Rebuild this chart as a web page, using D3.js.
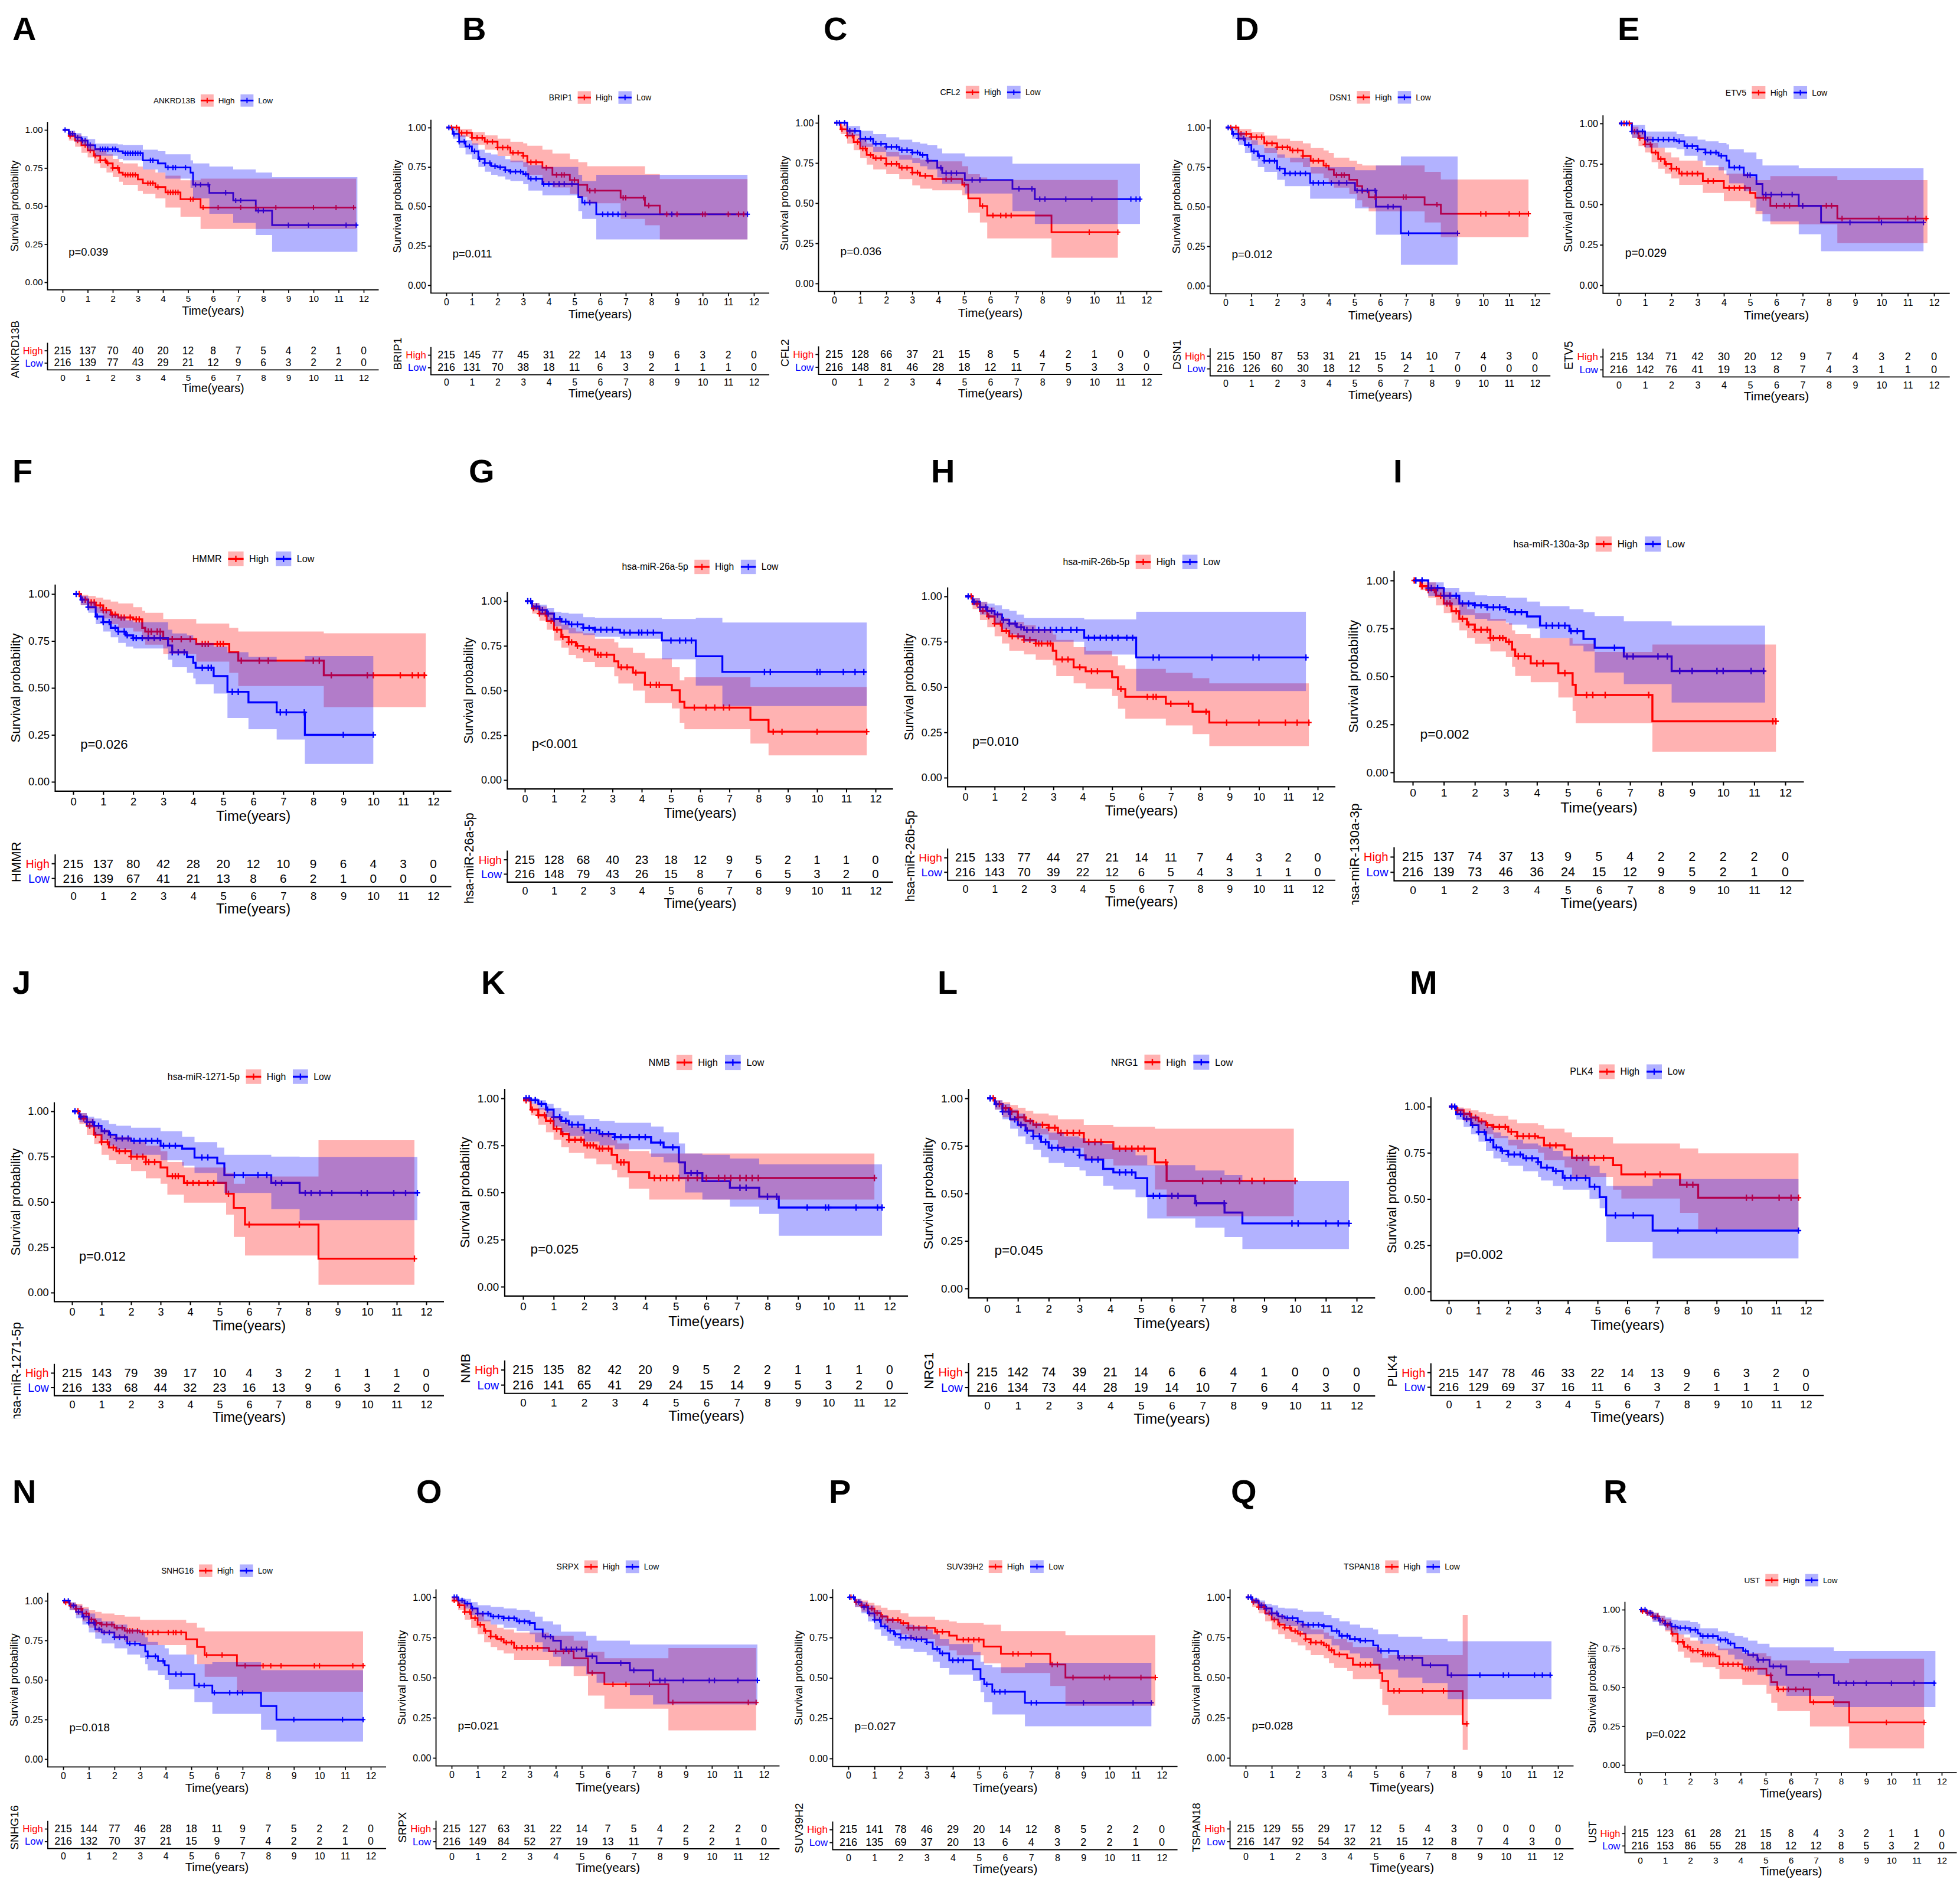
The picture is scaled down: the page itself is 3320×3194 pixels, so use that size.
<!DOCTYPE html>
<html>
<head>
<meta charset="utf-8">
<style>
  body { margin: 0; background: #fff; }
  text { font-family: "Liberation Sans", Arial, sans-serif; }
</style>
</head>
<body>
<svg id="fig"></svg>
<script src="https://cdn.jsdelivr.net/npm/d3@7"></script>
<script>
// ---- labels ----
const letters = ["A","B","C","D","E","F","G","H","I","J","K","L","M","N","O","P","Q","R"];
const genes = ["ANKRD13B","BRIP1","CFL2","DSN1","ETV5","HMMR","hsa-miR-26a-5p","hsa-miR-26b-5p",
  "hsa-miR-130a-3p","hsa-miR-1271-5p","NMB","NRG1","PLK4","SNHG16","SRPX","SUV39H2","TSPAN18","UST"];
const pvals = ["p=0.039","p=0.011","p=0.036","p=0.012","p=0.029","p=0.026","p<0.001","p=0.010","p=0.002",
  "p=0.012","p=0.025","p=0.045","p=0.002","p=0.018","p=0.021","p=0.027","p=0.028","p=0.022"];
const groups = ["High","Low"];
const timeTicks = [0,1,2,3,4,5,6,7,8,9,10,11,12];
const survTicks = [0, 0.25, 0.5, 0.75, 1];

// ---- KM curves: [time, survival, lower CI, upper CI] (last row = end of follow-up) ----
const kmA_hi = [[0,1,1,1],[0.25,0.96,0.93,0.99],[0.5,0.93,0.89,0.97],[0.75,0.9,0.85,0.94],[1,0.865,0.82,0.91],[1.25,0.83,0.78,0.88],[1.5,0.8,0.75,0.86],[1.75,0.78,0.72,0.84],[2,0.75,0.69,0.81],[2.25,0.72,0.66,0.79],[2.4,0.705,0.64,0.78],[3,0.675,0.6,0.76],[3.2,0.65,0.58,0.74],[3.7,0.625,0.55,0.72],[4.1,0.59,0.49,0.7],[4.7,0.545,0.43,0.67],[5.5,0.49,0.35,0.68],[11.7,0.49,0.35,0.68]];
const kmA_lo = [[0,1,1,1],[0.25,0.975,0.96,0.995],[0.5,0.95,0.92,0.98],[0.75,0.93,0.9,0.96],[1,0.9,0.86,0.94],[1.3,0.873,0.83,0.91],[2.2,0.86,0.81,0.905],[2.4,0.847,0.8,0.9],[3.2,0.8,0.74,0.87],[3.8,0.78,0.72,0.86],[4.1,0.753,0.68,0.84],[5.1,0.72,0.62,0.8],[5.2,0.64,0.55,0.78],[5.85,0.587,0.45,0.76],[6.8,0.537,0.39,0.74],[7.7,0.47,0.31,0.72],[8.35,0.375,0.2,0.69],[11.75,0.375,0.2,0.69]];
const kmB_hi = [[0,1,1,1],[0.5,0.966,0.94,0.99],[1,0.935,0.89,0.97],[1.5,0.91,0.86,0.95],[2,0.873,0.82,0.93],[2.5,0.84,0.78,0.91],[3,0.82,0.75,0.9],[3.16,0.78,0.7,0.885],[3.75,0.745,0.65,0.86],[4.14,0.7,0.62,0.835],[4.82,0.667,0.58,0.8],[5.15,0.636,0.56,0.78],[5.5,0.6,0.52,0.755],[6.8,0.555,0.42,0.755],[7.75,0.505,0.38,0.705],[8.33,0.45,0.29,0.673],[11.75,0.45,0.29,0.673]];
const kmB_lo = [[0,1,1,1],[0.25,0.96,0.93,0.99],[0.5,0.91,0.87,0.95],[0.75,0.88,0.83,0.92],[1,0.85,0.8,0.9],[1.25,0.8,0.75,0.86],[1.5,0.775,0.72,0.84],[1.75,0.755,0.7,0.83],[2,0.748,0.69,0.82],[2.3,0.73,0.67,0.8],[2.5,0.72,0.66,0.79],[3,0.705,0.64,0.78],[3.2,0.675,0.6,0.76],[3.75,0.642,0.57,0.75],[5.15,0.56,0.47,0.7],[5.3,0.524,0.42,0.66],[5.85,0.45,0.29,0.7],[11.75,0.45,0.29,0.7]];
const kmC_hi = [[0,1,1,1],[0.25,0.96,0.93,0.99],[0.5,0.92,0.87,0.96],[0.75,0.88,0.83,0.93],[1,0.84,0.78,0.9],[1.25,0.8,0.74,0.87],[1.5,0.78,0.71,0.85],[2,0.745,0.68,0.82],[2.5,0.72,0.65,0.8],[3,0.69,0.61,0.78],[3.3,0.67,0.59,0.77],[3.77,0.65,0.58,0.76],[4.92,0.615,0.55,0.73],[5.15,0.53,0.44,0.68],[5.6,0.482,0.38,0.66],[5.88,0.423,0.28,0.644],[8.35,0.319,0.16,0.644],[10.9,0.319,0.16,0.644]];
const kmC_lo = [[0,1,1,1],[0.5,0.95,0.92,0.98],[1,0.9,0.85,0.95],[1.5,0.87,0.82,0.93],[2,0.85,0.79,0.91],[2.5,0.83,0.77,0.895],[3,0.815,0.75,0.88],[3.3,0.8,0.73,0.87],[3.58,0.764,0.71,0.86],[3.96,0.72,0.66,0.84],[4.15,0.687,0.62,0.81],[5.02,0.644,0.56,0.79],[6.85,0.589,0.45,0.745],[7.71,0.525,0.37,0.745],[11.75,0.525,0.37,0.745]];
const kmD_hi = [[0,1,1,1],[0.5,0.96,0.92,0.99],[1,0.94,0.89,0.97],[1.5,0.9,0.84,0.95],[2,0.875,0.81,0.93],[2.5,0.855,0.78,0.915],[3,0.82,0.75,0.9],[3.3,0.79,0.71,0.87],[3.8,0.76,0.68,0.855],[4,0.735,0.65,0.84],[4.2,0.7,0.62,0.81],[4.8,0.67,0.58,0.79],[5.1,0.63,0.54,0.77],[5.3,0.6,0.5,0.76],[5.55,0.56,0.47,0.76],[7.72,0.513,0.4,0.72],[8.35,0.455,0.308,0.672],[11.75,0.455,0.308,0.672]];
const kmD_lo = [[0,1,1,1],[0.25,0.96,0.93,0.99],[0.5,0.93,0.89,0.97],[0.75,0.89,0.84,0.94],[1,0.85,0.79,0.92],[1.25,0.82,0.75,0.89],[1.5,0.79,0.72,0.87],[2,0.74,0.67,0.83],[2.3,0.71,0.63,0.81],[3.28,0.65,0.55,0.75],[5.02,0.602,0.49,0.73],[5.83,0.5,0.323,0.76],[6.8,0.332,0.132,0.817],[9,0.332,0.132,0.817]];
const kmE_hi = [[0,1,1,1],[0.5,0.95,0.91,0.98],[0.75,0.91,0.86,0.95],[1,0.87,0.82,0.92],[1.25,0.82,0.76,0.88],[1.5,0.78,0.72,0.85],[1.75,0.75,0.69,0.82],[2,0.72,0.66,0.79],[2.3,0.69,0.62,0.77],[3.2,0.644,0.57,0.73],[4,0.601,0.52,0.69],[5,0.57,0.48,0.67],[5.2,0.54,0.44,0.65],[5.77,0.491,0.376,0.674],[8.32,0.412,0.26,0.65],[11.75,0.412,0.26,0.65]];
const kmE_lo = [[0,1,1,1],[0.5,0.95,0.91,0.99],[1,0.9,0.85,0.95],[2.2,0.89,0.84,0.934],[2.5,0.86,0.8,0.92],[3,0.84,0.77,0.9],[3.3,0.82,0.74,0.89],[3.8,0.8,0.71,0.88],[4.1,0.77,0.68,0.87],[4.2,0.727,0.63,0.84],[4.76,0.68,0.58,0.82],[5.24,0.626,0.46,0.78],[5.47,0.56,0.394,0.74],[6.85,0.49,0.315,0.723],[7.7,0.388,0.21,0.723],[11.6,0.388,0.21,0.723]];
const kmF_hi = [[0,1,1,1],[0.25,0.97,0.94,0.995],[0.5,0.955,0.92,0.99],[0.75,0.94,0.9,0.98],[1,0.914,0.87,0.97],[1.25,0.89,0.84,0.96],[1.5,0.875,0.82,0.95],[2,0.865,0.8,0.93],[2.3,0.82,0.76,0.91],[2.4,0.8,0.73,0.9],[3,0.76,0.68,0.867],[4.1,0.734,0.64,0.843],[5.2,0.69,0.58,0.82],[5.5,0.645,0.51,0.8],[8.35,0.567,0.398,0.791],[11.75,0.567,0.398,0.791]];
const kmF_lo = [[0,1,1,1],[0.25,0.97,0.94,0.99],[0.5,0.93,0.9,0.96],[0.75,0.88,0.84,0.93],[1,0.85,0.8,0.91],[1.25,0.82,0.77,0.89],[1.5,0.8,0.74,0.88],[1.75,0.78,0.72,0.86],[2,0.765,0.71,0.85],[3.16,0.726,0.65,0.81],[3.3,0.69,0.61,0.79],[3.79,0.665,0.58,0.78],[4,0.634,0.55,0.76],[4.08,0.607,0.52,0.74],[4.68,0.563,0.47,0.72],[5.14,0.479,0.34,0.69],[5.84,0.423,0.28,0.665],[6.78,0.37,0.225,0.64],[7.72,0.25,0.095,0.67],[10,0.25,0.095,0.67]];
const kmG_hi = [[0,1,1,1],[0.25,0.96,0.93,0.99],[0.5,0.93,0.89,0.97],[0.75,0.89,0.84,0.94],[1,0.84,0.78,0.9],[1.25,0.8,0.74,0.87],[1.5,0.77,0.7,0.85],[1.75,0.75,0.68,0.83],[2,0.73,0.66,0.82],[2.4,0.7,0.63,0.79],[3.06,0.664,0.58,0.77],[3.2,0.63,0.54,0.74],[3.7,0.6,0.5,0.71],[4.11,0.532,0.43,0.68],[5.03,0.502,0.4,0.63],[5.3,0.438,0.32,0.557],[5.46,0.405,0.284,0.574],[7.72,0.336,0.204,0.52],[8.34,0.27,0.138,0.52],[11.7,0.27,0.138,0.52]];
const kmG_lo = [[0,1,1,1],[0.25,0.97,0.95,0.99],[0.5,0.95,0.92,0.98],[0.75,0.93,0.89,0.96],[1,0.9,0.86,0.94],[1.25,0.885,0.84,0.935],[1.5,0.87,0.82,0.93],[2,0.85,0.81,0.91],[2.4,0.84,0.8,0.906],[3.26,0.824,0.79,0.906],[4.69,0.78,0.675,0.9],[5.85,0.692,0.527,0.906],[6.76,0.604,0.413,0.88],[11.7,0.604,0.413,0.88]];
const kmH_hi = [[0,1,1,1],[0.25,0.96,0.93,0.99],[0.5,0.92,0.87,0.97],[0.75,0.89,0.83,0.94],[1,0.85,0.78,0.91],[1.25,0.81,0.74,0.88],[1.5,0.78,0.7,0.86],[2,0.76,0.68,0.84],[2.4,0.74,0.65,0.82],[2.98,0.7,0.62,0.79],[3.1,0.652,0.56,0.76],[3.69,0.609,0.52,0.72],[4.1,0.587,0.49,0.7],[5,0.554,0.45,0.67],[5.2,0.489,0.38,0.62],[5.45,0.446,0.326,0.6],[6.83,0.408,0.288,0.578],[7.74,0.364,0.24,0.549],[8.31,0.304,0.174,0.52],[11.7,0.304,0.174,0.52]];
const kmH_lo = [[0,1,1,1],[0.25,0.97,0.95,0.99],[0.5,0.94,0.9,0.97],[0.75,0.92,0.88,0.96],[1,0.9,0.85,0.95],[1.25,0.87,0.82,0.93],[1.5,0.85,0.79,0.92],[1.75,0.83,0.77,0.9],[2,0.815,0.75,0.88],[4.05,0.772,0.679,0.873],[5.82,0.663,0.478,0.915],[11.6,0.663,0.478,0.915]];
const kmI_hi = [[0,1,1,1],[0.25,0.97,0.95,0.99],[0.5,0.95,0.91,0.99],[0.75,0.92,0.87,0.96],[1,0.88,0.83,0.94],[1.25,0.84,0.78,0.91],[1.5,0.8,0.74,0.88],[1.75,0.77,0.7,0.85],[2,0.743,0.67,0.83],[2.5,0.7,0.63,0.8],[3,0.68,0.6,0.777],[3.2,0.64,0.55,0.74],[3.3,0.605,0.502,0.72],[3.8,0.568,0.47,0.7],[4.69,0.517,0.39,0.7],[5.15,0.456,0.32,0.67],[5.25,0.403,0.256,0.67],[5.86,0.403,0.256,0.628],[7.72,0.266,0.108,0.666],[11.7,0.266,0.108,0.666]];
const kmI_lo = [[0,1,1,1],[0.5,0.96,0.92,0.99],[1,0.92,0.87,0.96],[1.5,0.88,0.82,0.94],[2,0.871,0.8,0.922],[2.4,0.86,0.79,0.92],[3,0.85,0.78,0.91],[3.1,0.835,0.77,0.91],[3.68,0.812,0.75,0.89],[4.1,0.765,0.7,0.866],[5.05,0.736,0.66,0.85],[5.5,0.695,0.63,0.835],[5.86,0.649,0.52,0.815],[6.8,0.604,0.46,0.787],[8.34,0.528,0.364,0.765],[11.35,0.528,0.364,0.765]];
const kmJ_hi = [[0,1,1,1],[0.25,0.96,0.93,0.99],[0.5,0.92,0.87,0.96],[0.75,0.87,0.82,0.92],[1,0.83,0.76,0.9],[1.25,0.8,0.73,0.87],[1.5,0.78,0.71,0.86],[2,0.75,0.67,0.83],[2.5,0.72,0.63,0.81],[3,0.69,0.6,0.78],[3.23,0.642,0.54,0.72],[3.79,0.605,0.496,0.69],[5.22,0.545,0.43,0.66],[5.48,0.467,0.307,0.6],[5.86,0.375,0.204,0.64],[8.35,0.187,0.043,0.84],[11.6,0.187,0.043,0.84]];
const kmJ_lo = [[0,1,1,1],[0.25,0.97,0.94,0.99],[0.5,0.94,0.91,0.97],[0.75,0.92,0.87,0.96],[1,0.89,0.84,0.95],[1.25,0.87,0.81,0.93],[1.5,0.85,0.79,0.92],[2,0.837,0.76,0.91],[3,0.81,0.73,0.89],[3.73,0.794,0.7,0.86],[4.15,0.745,0.66,0.83],[4.92,0.713,0.6,0.8],[5.16,0.648,0.55,0.76],[6.75,0.605,0.46,0.75],[7.71,0.55,0.4,0.748],[11.7,0.55,0.4,0.748]];
const kmK_hi = [[0,0.99,0.98,1],[0.25,0.94,0.91,0.97],[0.5,0.91,0.86,0.95],[0.75,0.88,0.82,0.93],[1,0.838,0.78,0.9],[1.25,0.81,0.74,0.87],[1.5,0.78,0.71,0.85],[2,0.75,0.68,0.82],[2.4,0.733,0.65,0.81],[2.9,0.7,0.62,0.78],[3.08,0.66,0.58,0.76],[3.46,0.608,0.52,0.72],[4.13,0.577,0.462,0.707],[11.5,0.577,0.462,0.707]];
const kmK_lo = [[0,1,1,1],[0.25,0.99,0.97,1],[0.5,0.97,0.94,0.99],[0.75,0.94,0.9,0.97],[1,0.9,0.85,0.95],[1.25,0.88,0.82,0.93],[1.5,0.86,0.8,0.91],[2,0.83,0.77,0.89],[2.5,0.81,0.75,0.88],[3,0.794,0.73,0.87],[4.19,0.765,0.69,0.85],[4.6,0.74,0.66,0.82],[5.1,0.66,0.57,0.76],[5.3,0.603,0.5,0.707],[5.87,0.56,0.462,0.7],[6.77,0.525,0.425,0.68],[7.73,0.478,0.386,0.65],[8.37,0.42,0.27,0.65],[11.75,0.42,0.27,0.65]];
const kmL_hi = [[0,1,1,1],[0.25,0.97,0.94,0.99],[0.5,0.948,0.9,0.98],[0.75,0.93,0.88,0.965],[1,0.9,0.85,0.95],[1.25,0.88,0.83,0.935],[1.5,0.86,0.81,0.92],[2,0.845,0.78,0.91],[2.3,0.818,0.74,0.89],[3.14,0.77,0.68,0.86],[4.1,0.735,0.647,0.85],[5.45,0.663,0.52,0.84],[5.83,0.565,0.38,0.84],[9.96,0.565,0.38,0.84]];
const kmL_lo = [[0,1,1,1],[0.25,0.97,0.94,0.99],[0.5,0.93,0.89,0.97],[0.75,0.89,0.84,0.94],[1,0.86,0.8,0.92],[1.25,0.83,0.76,0.89],[1.5,0.8,0.73,0.87],[1.75,0.77,0.69,0.84],[2,0.74,0.66,0.82],[2.5,0.73,0.64,0.8],[3,0.7,0.62,0.79],[3.2,0.678,0.59,0.77],[3.77,0.629,0.54,0.76],[4.1,0.61,0.52,0.73],[4.82,0.58,0.48,0.7],[5.2,0.487,0.368,0.648],[6.76,0.448,0.32,0.62],[7.71,0.399,0.27,0.596],[8.29,0.342,0.207,0.565],[11.75,0.342,0.207,0.565]];
const kmM_hi = [[0,1,1,1],[0.25,0.98,0.96,0.995],[0.5,0.96,0.92,0.99],[0.75,0.94,0.9,0.98],[1,0.92,0.87,0.97],[1.25,0.9,0.85,0.96],[1.5,0.89,0.83,0.95],[2,0.864,0.79,0.93],[2.3,0.84,0.77,0.91],[3,0.832,0.75,0.9],[3.2,0.79,0.71,0.88],[3.89,0.768,0.67,0.86],[4.14,0.722,0.62,0.834],[5.52,0.683,0.55,0.8],[5.8,0.633,0.502,0.8],[7.77,0.577,0.425,0.773],[8.38,0.507,0.337,0.747],[11.75,0.507,0.337,0.747]];
const kmM_lo = [[0,1,1,1],[0.25,0.96,0.93,0.99],[0.5,0.933,0.89,0.97],[0.75,0.9,0.85,0.95],[1,0.862,0.81,0.92],[1.25,0.82,0.76,0.89],[1.5,0.779,0.72,0.86],[1.75,0.76,0.7,0.84],[2,0.741,0.68,0.82],[2.5,0.72,0.65,0.8],[3,0.7,0.62,0.79],[3.1,0.67,0.6,0.78],[3.5,0.651,0.57,0.76],[3.83,0.614,0.55,0.73],[4.73,0.566,0.5,0.68],[5.07,0.51,0.45,0.64],[5.29,0.411,0.268,0.57],[6.85,0.329,0.178,0.608],[11.75,0.329,0.178,0.608]];
const kmN_hi = [[0,0.99,0.98,1],[0.25,0.97,0.94,0.99],[0.5,0.95,0.91,0.98],[0.75,0.92,0.87,0.96],[1,0.882,0.83,0.94],[1.25,0.86,0.8,0.93],[1.5,0.85,0.79,0.92],[2,0.83,0.76,0.91],[2.4,0.81,0.74,0.9],[3,0.8,0.72,0.88],[4.8,0.757,0.66,0.86],[5.22,0.708,0.6,0.83],[5.52,0.657,0.52,0.807],[6.78,0.59,0.425,0.807],[11.7,0.59,0.425,0.807]];
const kmN_lo = [[0,1,1,1],[0.25,0.97,0.94,0.99],[0.5,0.93,0.89,0.97],[0.75,0.9,0.85,0.95],[1,0.861,0.8,0.92],[1.25,0.82,0.76,0.89],[1.5,0.8,0.73,0.87],[2,0.77,0.7,0.85],[2.5,0.73,0.66,0.82],[3,0.72,0.64,0.8],[3.2,0.68,0.6,0.77],[3.3,0.65,0.56,0.74],[3.7,0.62,0.53,0.72],[3.96,0.593,0.5,0.7],[4.12,0.537,0.44,0.66],[5.12,0.465,0.36,0.6],[5.82,0.419,0.285,0.612],[7.72,0.335,0.185,0.562],[8.32,0.249,0.11,0.562],[11.7,0.249,0.11,0.562]];
const kmO_hi = [[0,0.98,0.97,1],[0.25,0.95,0.92,0.98],[0.5,0.908,0.86,0.96],[0.75,0.87,0.81,0.93],[1,0.829,0.77,0.9],[1.25,0.79,0.72,0.86],[1.5,0.755,0.69,0.83],[1.75,0.74,0.67,0.81],[2,0.718,0.65,0.8],[2.4,0.685,0.61,0.78],[3.74,0.663,0.57,0.76],[4.69,0.62,0.51,0.73],[5.24,0.529,0.388,0.66],[5.87,0.458,0.306,0.62],[8.33,0.345,0.171,0.684],[11.7,0.345,0.171,0.684]];
const kmO_lo = [[0,1,1,1],[0.25,0.98,0.96,0.995],[0.5,0.96,0.93,0.99],[0.75,0.93,0.89,0.97],[1,0.898,0.85,0.95],[1.5,0.88,0.83,0.94],[2,0.869,0.81,0.93],[2.5,0.85,0.79,0.92],[3,0.84,0.77,0.91],[3.2,0.8,0.72,0.88],[3.5,0.755,0.66,0.85],[3.9,0.73,0.63,0.83],[4.2,0.676,0.57,0.786],[5.17,0.633,0.52,0.76],[5.57,0.59,0.468,0.73],[6.85,0.545,0.39,0.706],[7.74,0.482,0.333,0.706],[11.75,0.482,0.333,0.706]];
const kmP_hi = [[0,1,1,1],[0.25,0.97,0.94,0.99],[0.5,0.949,0.91,0.98],[0.75,0.93,0.88,0.965],[1,0.902,0.86,0.95],[1.25,0.88,0.83,0.935],[1.5,0.859,0.8,0.92],[2,0.84,0.77,0.9],[2.3,0.81,0.74,0.88],[3.32,0.786,0.7,0.86],[3.86,0.762,0.67,0.85],[4.15,0.737,0.64,0.84],[5.18,0.694,0.59,0.83],[5.84,0.649,0.53,0.79],[7.73,0.583,0.45,0.79],[8.31,0.502,0.327,0.765],[11.75,0.502,0.327,0.765]];
const kmP_lo = [[0,1,1,1],[0.25,0.97,0.94,0.99],[0.5,0.94,0.9,0.97],[0.75,0.9,0.85,0.95],[1,0.86,0.8,0.92],[1.25,0.82,0.76,0.89],[1.5,0.792,0.73,0.87],[1.75,0.77,0.7,0.85],[2,0.749,0.68,0.83],[2.5,0.74,0.66,0.82],[3,0.72,0.64,0.8],[3.23,0.68,0.6,0.77],[3.5,0.652,0.56,0.74],[3.86,0.609,0.52,0.71],[4.77,0.554,0.48,0.66],[5.06,0.493,0.41,0.6],[5.2,0.46,0.35,0.58],[5.51,0.414,0.273,0.566],[6.76,0.345,0.2,0.593],[11.6,0.345,0.2,0.593]];
const kmQ_hi = [[0,1,1,1],[0.25,0.97,0.94,0.99],[0.5,0.939,0.9,0.97],[0.75,0.9,0.85,0.94],[1,0.861,0.8,0.91],[1.25,0.83,0.77,0.89],[1.5,0.81,0.74,0.87],[1.75,0.79,0.72,0.855],[2,0.773,0.7,0.84],[2.3,0.74,0.67,0.82],[2.5,0.718,0.64,0.8],[3,0.7,0.62,0.78],[3.2,0.67,0.59,0.76],[3.4,0.644,0.56,0.74],[3.9,0.62,0.54,0.72],[4.12,0.58,0.49,0.69],[5.15,0.528,0.43,0.65],[5.25,0.479,0.33,0.62],[5.48,0.417,0.266,0.64],[8.34,0.212,0.05,0.89],[8.53,0.212,0.05,0.89]];
const kmQ_lo = [[0,1,1,1],[0.25,0.98,0.96,0.995],[0.5,0.95,0.92,0.98],[0.75,0.93,0.89,0.96],[1,0.9,0.86,0.95],[1.25,0.88,0.84,0.935],[1.5,0.87,0.82,0.93],[2,0.849,0.79,0.92],[2.2,0.828,0.77,0.91],[3,0.82,0.74,0.89],[3.3,0.79,0.7,0.87],[3.6,0.76,0.67,0.85],[4,0.74,0.65,0.83],[4.4,0.73,0.62,0.81],[4.9,0.7,0.58,0.8],[5.09,0.666,0.55,0.77],[5.86,0.623,0.5,0.755],[6.79,0.577,0.466,0.74],[7.76,0.515,0.366,0.726],[11.75,0.515,0.366,0.726]];
const kmR_hi = [[0,0.99,0.98,1],[0.25,0.98,0.96,0.995],[0.5,0.958,0.93,0.98],[0.75,0.93,0.9,0.96],[1,0.901,0.86,0.94],[1.25,0.844,0.79,0.89],[1.5,0.793,0.73,0.84],[1.75,0.76,0.69,0.82],[2,0.736,0.66,0.8],[2.5,0.711,0.63,0.78],[3,0.7,0.618,0.768],[3.16,0.648,0.553,0.75],[4.07,0.619,0.515,0.72],[5.03,0.578,0.458,0.7],[5.22,0.534,0.4,0.673],[5.46,0.487,0.347,0.673],[6.76,0.404,0.248,0.657],[8.32,0.274,0.106,0.684],[11.3,0.274,0.106,0.684]];
const kmR_lo = [[0,1,1,1],[0.25,0.98,0.96,0.995],[0.5,0.95,0.92,0.98],[0.75,0.93,0.895,0.96],[1,0.909,0.87,0.95],[1.25,0.89,0.85,0.935],[1.5,0.882,0.84,0.93],[2,0.87,0.82,0.92],[2.3,0.847,0.8,0.91],[2.4,0.83,0.78,0.88],[3.1,0.806,0.74,0.86],[3.5,0.783,0.71,0.85],[3.76,0.755,0.68,0.83],[4.1,0.733,0.64,0.82],[4.3,0.708,0.62,0.8],[4.67,0.676,0.58,0.78],[5.15,0.635,0.51,0.758],[5.82,0.58,0.445,0.758],[7.71,0.527,0.373,0.734],[11.75,0.527,0.373,0.734]];

// ---- censoring times ----
const cnA_hi = [0.3,0.6,0.9,1.1,1.3,1.5,1.7,1.8,2.0,2.2,2.5,2.6,2.7,2.8,2.9,3.4,3.5,3.6,3.8,4.2,4.3,4.4,4.5,4.6,5.1,5.2,5.6,6.2,7.1,7.7,8.5,10.0,10.9,11.6];
const cnA_lo = [0.1,0.3,0.4,0.6,0.8,0.9,1.0,1.1,1.5,1.6,1.7,1.8,2.0,2.1,2.5,2.6,2.7,2.8,2.9,3.0,3.1,3.5,3.6,4.2,4.4,4.5,4.9,5.3,5.5,5.8,6.5,6.9,7.1,7.8,8.0,9.0,9.8,11.3,11.7];
const cnB_hi = [0.2,0.4,0.6,0.8,1.0,1.2,1.4,1.6,1.8,2.0,2.2,2.4,2.6,2.8,3.0,3.3,3.5,3.9,4.3,4.5,4.6,5.0,5.6,5.8,6.9,7.0,7.7,7.9,8.6,9.0,10.0,10.1,11.0,11.4,11.6];
const cnB_lo = [0.1,0.3,0.5,0.7,0.9,1.1,1.3,1.5,1.7,1.9,2.1,2.3,2.5,2.7,2.9,3.1,3.3,3.5,3.8,4.0,4.2,4.4,4.6,4.9,5.4,5.6,6.1,6.3,6.5,6.7,7.0,8.8,11.75];
const cnC_hi = [0.3,0.5,0.7,0.9,1.1,1.2,1.4,1.6,1.8,2.0,2.2,2.4,2.6,2.8,3.0,3.2,3.5,4.3,4.5,5.0,5.7,6.1,6.4,6.6,6.8,9.8,10.9];
const cnC_lo = [0.1,0.2,0.4,0.6,0.8,1.0,1.2,1.4,1.6,1.8,2.0,2.2,2.4,2.6,2.8,3.0,3.2,3.4,3.6,4.1,4.3,4.5,4.7,5.3,5.6,7.1,7.6,7.9,8.1,8.9,9.9,11.4,11.6,11.75];
const cnD_hi = [0.2,0.4,0.6,0.8,1.0,1.2,1.4,1.6,1.8,2.0,2.2,2.4,2.6,2.8,3.0,3.4,3.6,3.9,4.3,4.5,4.6,5.3,5.8,6.9,7.0,8.2,9.9,10.1,11.0,11.4,11.75];
const cnD_lo = [0.1,0.3,0.5,0.7,0.9,1.1,1.3,1.5,1.7,1.9,2.1,2.3,2.5,2.7,2.9,3.1,3.4,3.6,3.8,4.1,4.4,4.7,5.1,5.3,5.5,5.8,6.3,6.5,7.1,9.0];
const cnE_hi = [0.2,0.4,0.6,0.8,1.0,1.2,1.4,1.6,1.8,2.0,2.2,2.4,2.6,2.8,3.0,3.4,3.6,4.2,4.4,4.6,4.8,5.5,5.6,6.0,6.3,6.5,7.0,7.9,8.1,8.5,9.9,11.0,11.3,11.7];
const cnE_lo = [0.1,0.3,0.5,0.7,0.9,1.1,1.3,1.5,1.7,1.9,2.1,2.3,2.6,2.8,3.0,3.3,3.5,3.7,3.9,4.4,4.6,4.9,5.0,5.6,5.8,6.2,6.6,7.0,8.8,10.0,11.6];
const cnF_hi = [0.2,0.4,0.6,0.7,0.9,1.0,1.1,1.3,1.4,1.6,1.7,1.9,2.1,2.2,2.5,2.6,2.8,2.9,3.3,3.6,3.9,4.3,4.4,4.5,4.8,4.9,5.0,5.6,6.2,6.5,8.0,8.2,8.6,9.8,10.0,10.9,11.3,11.5,11.7];
const cnF_lo = [0.1,0.3,0.5,0.8,1.0,1.2,1.4,1.5,1.7,1.8,2.0,2.1,2.3,2.5,2.7,2.9,3.3,3.5,3.7,4.3,4.5,4.6,5.3,5.5,6.9,7.1,7.7,9.0,10.0];
const cnG_hi = [0.3,0.5,0.7,0.9,1.1,1.3,1.5,1.6,1.8,2.0,2.2,2.5,2.6,2.8,3.3,3.5,3.8,4.3,4.5,4.6,5.8,6.2,6.5,6.8,7.0,8.5,8.8,10.0,11.7];
const cnG_lo = [0.1,0.2,0.4,0.6,0.8,1.0,1.2,1.4,1.6,1.8,2.0,2.2,2.4,2.6,2.8,3.0,3.4,3.6,3.9,4.0,4.2,4.4,5.0,5.3,5.5,5.7,8.2,8.4,10.0,10.1,10.9,11.3,11.6];
const cnH_hi = [0.2,0.4,0.6,0.8,1.0,1.2,1.4,1.6,1.8,2.0,2.2,2.4,2.5,2.6,2.8,2.9,3.3,3.5,3.9,4.3,4.5,5.3,6.2,6.4,6.5,7.0,7.6,8.2,8.9,10.0,10.9,11.3,11.7];
const cnH_lo = [0.1,0.3,0.5,0.7,0.9,1.1,1.3,1.5,1.7,1.9,2.1,2.3,2.5,2.7,2.9,3.1,3.3,3.6,3.8,4.2,4.4,4.6,4.8,5.0,5.2,5.5,5.7,6.4,6.6,8.4,9.8,10.0,11.6];
const cnI_hi = [0.05,0.3,0.5,0.7,0.9,1.1,1.2,1.4,1.6,1.8,2.0,2.2,2.4,2.5,2.6,2.8,2.9,3.1,3.4,3.6,4.0,4.2,4.9,5.6,5.8,6.2,7.6,11.6,11.7];
const cnI_lo = [0.1,0.3,0.5,0.6,0.8,1.0,1.2,1.4,1.6,1.8,2.0,2.2,2.4,2.6,2.8,3.0,3.3,3.5,4.3,4.5,4.7,4.9,5.1,5.3,6.5,6.9,7.1,7.9,8.2,8.6,9.0,9.8,10.0,10.9,11.3];
const cnJ_hi = [0.2,0.4,0.6,0.8,1.0,1.2,1.4,1.6,1.8,2.0,2.2,2.4,2.5,2.6,2.8,3.4,3.5,3.6,3.9,4.1,4.3,4.6,4.8,5.3,6.0,7.7,11.6];
const cnJ_lo = [0.1,0.3,0.5,0.7,0.9,1.1,1.3,1.5,1.7,1.9,2.1,2.3,2.5,2.7,2.9,3.1,3.3,3.5,4.4,4.6,5.5,5.8,6.3,6.6,6.9,7.1,7.9,8.1,8.4,8.8,9.8,10.0,10.9,11.3,11.7];
const cnK_hi = [0.1,0.3,0.5,0.7,0.9,1.1,1.3,1.5,1.7,1.9,2.1,2.2,2.3,2.5,2.6,2.8,3.2,3.3,4.3,4.5,4.7,4.9,5.1,5.4,5.7,6.0,6.4,6.6,6.8,7.1,7.3,7.5,7.7,11.5];
const cnK_lo = [0.1,0.2,0.4,0.6,0.8,1.0,1.2,1.4,1.6,1.8,2.0,2.2,2.4,2.6,2.8,3.0,3.2,3.5,3.8,4.0,4.5,4.9,5.5,5.7,7.1,7.3,8.0,8.3,9.3,9.9,10.0,10.9,11.6,11.75];
const cnL_hi = [0.2,0.4,0.6,0.8,1.0,1.2,1.4,1.6,1.8,2.0,2.2,2.4,2.6,2.8,3.0,3.3,3.5,3.7,4.3,4.5,4.7,4.9,5.1,5.8,7.0,7.6,8.2,8.6,9.0,10.0];
const cnL_lo = [0.1,0.3,0.5,0.7,0.9,1.1,1.3,1.5,1.7,1.9,2.1,2.3,2.5,2.8,3.0,3.4,3.6,4.3,4.5,4.7,5.4,5.6,6.0,6.2,6.8,7.7,9.9,10.1,11.0,11.4,11.75];
const cnM_hi = [0.1,0.3,0.5,0.7,0.9,1.1,1.3,1.5,1.7,1.9,2.1,2.3,2.5,2.7,2.9,3.4,3.6,4.3,4.5,4.7,4.9,5.2,6.6,7.1,8.0,8.2,10.0,10.2,11.1,11.5,11.75];
const cnM_lo = [0.1,0.2,0.4,0.6,0.8,1.0,1.2,1.4,1.6,1.8,2.0,2.2,2.4,2.6,2.8,3.0,3.3,3.6,3.9,4.1,4.3,4.6,4.9,5.6,6.2,7.7,9.0,11.75];
const cnN_hi = [0.1,0.3,0.5,0.7,0.9,1.1,1.3,1.5,1.7,1.9,2.1,2.3,2.5,2.6,2.7,2.9,3.1,3.3,3.5,3.7,4.1,4.3,4.4,4.6,5.6,6.2,7.1,7.8,8.1,8.5,9.8,10.0,11.3,11.7];
const cnN_lo = [0.05,0.2,0.4,0.6,0.8,1.0,1.2,1.4,1.6,1.8,2.0,2.2,2.4,2.6,2.8,3.3,3.6,3.9,4.4,4.6,5.3,5.5,5.9,6.5,6.8,7.0,9.0,10.9,11.7];
const cnO_hi = [0.1,0.3,0.5,0.7,0.9,1.1,1.3,1.5,1.7,1.9,2.1,2.3,2.5,2.7,2.9,3.1,3.3,4.0,4.3,4.5,5.4,6.2,6.7,7.6,8.5,11.4,11.7];
const cnO_lo = [0.1,0.2,0.4,0.6,0.8,1.0,1.2,1.4,1.6,1.8,2.0,2.2,2.4,2.6,2.8,3.0,3.6,3.8,4.4,4.6,4.8,5.0,5.4,6.5,7.0,8.0,8.2,8.9,9.9,10.1,11.0,11.75];
const cnP_hi = [0.1,0.3,0.5,0.7,0.9,1.1,1.3,1.5,1.7,1.9,2.1,2.3,2.5,2.7,3.0,3.4,3.6,4.4,4.6,4.8,5.0,6.3,6.5,7.0,7.8,8.0,8.6,9.8,10.0,11.2,11.75];
const cnP_lo = [0.05,0.2,0.4,0.6,0.8,1.0,1.2,1.4,1.6,1.8,2.0,2.2,2.4,2.6,2.8,3.0,3.4,3.6,4.0,4.2,4.4,5.3,5.6,5.8,6.0,7.0,7.2,9.0,10.9,11.6];
const cnQ_hi = [0.1,0.3,0.5,0.7,0.9,1.1,1.3,1.5,1.7,1.9,2.1,2.3,2.5,2.7,2.9,3.1,3.3,3.6,4.4,4.6,4.8,5.7,5.9,6.8,7.6,8.5];
const cnQ_lo = [0.1,0.2,0.4,0.6,0.8,1.0,1.2,1.4,1.6,1.8,2.0,2.2,2.4,2.6,2.8,3.0,3.5,3.7,3.9,4.2,4.4,4.6,5.2,5.5,5.9,6.1,6.4,7.1,7.9,9.0,9.9,10.1,11.1,11.4,11.7];
const cnR_hi = [0.1,0.3,0.5,0.7,0.9,1.1,1.3,1.5,1.7,1.9,2.1,2.3,2.5,2.6,2.7,2.8,2.9,3.3,3.5,3.7,3.9,4.2,4.3,4.4,4.5,5.2,5.5,5.7,5.9,6.2,6.5,6.9,7.7,9.8,11.3];
const cnR_lo = [0.05,0.2,0.4,0.6,0.8,1.0,1.2,1.4,1.6,1.8,2.0,2.2,2.5,2.7,2.9,3.2,3.4,3.6,4.2,4.5,4.7,4.9,5.3,5.6,7.1,7.9,8.2,8.5,9.0,10.0,10.9,11.7];

// ---- numbers at risk at years 0..12 ----
const rkA_hi = [215,137,70,40,20,12,8,7,5,4,2,1,0], rkA_lo = [216,139,77,43,29,21,12,9,6,3,2,2,0];
const rkB_hi = [215,145,77,45,31,22,14,13,9,6,3,2,0], rkB_lo = [216,131,70,38,18,11,6,3,2,1,1,1,0];
const rkC_hi = [215,128,66,37,21,15,8,5,4,2,1,0,0], rkC_lo = [216,148,81,46,28,18,12,11,7,5,3,3,0];
const rkD_hi = [215,150,87,53,31,21,15,14,10,7,4,3,0], rkD_lo = [216,126,60,30,18,12,5,2,1,0,0,0,0];
const rkE_hi = [215,134,71,42,30,20,12,9,7,4,3,2,0], rkE_lo = [216,142,76,41,19,13,8,7,4,3,1,1,0];
const rkF_hi = [215,137,80,42,28,20,12,10,9,6,4,3,0], rkF_lo = [216,139,67,41,21,13,8,6,2,1,0,0,0];
const rkG_hi = [215,128,68,40,23,18,12,9,5,2,1,1,0], rkG_lo = [216,148,79,43,26,15,8,7,6,5,3,2,0];
const rkH_hi = [215,133,77,44,27,21,14,11,7,4,3,2,0], rkH_lo = [216,143,70,39,22,12,6,5,4,3,1,1,0];
const rkI_hi = [215,137,74,37,13,9,5,4,2,2,2,2,0], rkI_lo = [216,139,73,46,36,24,15,12,9,5,2,1,0];
const rkJ_hi = [215,143,79,39,17,10,4,3,2,1,1,1,0], rkJ_lo = [216,133,68,44,32,23,16,13,9,6,3,2,0];
const rkK_hi = [215,135,82,42,20,9,5,2,2,1,1,1,0], rkK_lo = [216,141,65,41,29,24,15,14,9,5,3,2,0];
const rkL_hi = [215,142,74,39,21,14,6,6,4,1,0,0,0], rkL_lo = [216,134,73,44,28,19,14,10,7,6,4,3,0];
const rkM_hi = [215,147,78,46,33,22,14,13,9,6,3,2,0], rkM_lo = [216,129,69,37,16,11,6,3,2,1,1,1,0];
const rkN_hi = [215,144,77,46,28,18,11,9,7,5,2,2,0], rkN_lo = [216,132,70,37,21,15,9,7,4,2,2,1,0];
const rkO_hi = [215,127,63,31,22,14,7,5,4,2,2,2,0], rkO_lo = [216,149,84,52,27,19,13,11,7,5,2,1,0];
const rkP_hi = [215,141,78,46,29,20,14,12,8,5,2,2,0], rkP_lo = [216,135,69,37,20,13,6,4,3,2,2,1,0];
const rkQ_hi = [215,129,55,29,17,12,5,4,3,0,0,0,0], rkQ_lo = [216,147,92,54,32,21,15,12,8,7,4,3,0];
const rkR_hi = [215,123,61,28,21,15,8,4,3,2,1,1,0], rkR_lo = [216,153,86,55,28,18,12,12,8,5,3,2,0];

const kmHigh = [kmA_hi,kmB_hi,kmC_hi,kmD_hi,kmE_hi,kmF_hi,kmG_hi,kmH_hi,kmI_hi,kmJ_hi,kmK_hi,kmL_hi,kmM_hi,kmN_hi,kmO_hi,kmP_hi,kmQ_hi,kmR_hi];
const kmLow = [kmA_lo,kmB_lo,kmC_lo,kmD_lo,kmE_lo,kmF_lo,kmG_lo,kmH_lo,kmI_lo,kmJ_lo,kmK_lo,kmL_lo,kmM_lo,kmN_lo,kmO_lo,kmP_lo,kmQ_lo,kmR_lo];
const cnHigh = [cnA_hi,cnB_hi,cnC_hi,cnD_hi,cnE_hi,cnF_hi,cnG_hi,cnH_hi,cnI_hi,cnJ_hi,cnK_hi,cnL_hi,cnM_hi,cnN_hi,cnO_hi,cnP_hi,cnQ_hi,cnR_hi];
const cnLow = [cnA_lo,cnB_lo,cnC_lo,cnD_lo,cnE_lo,cnF_lo,cnG_lo,cnH_lo,cnI_lo,cnJ_lo,cnK_lo,cnL_lo,cnM_lo,cnN_lo,cnO_lo,cnP_lo,cnQ_lo,cnR_lo];
const rkHigh = [rkA_hi,rkB_hi,rkC_hi,rkD_hi,rkE_hi,rkF_hi,rkG_hi,rkH_hi,rkI_hi,rkJ_hi,rkK_hi,rkL_hi,rkM_hi,rkN_hi,rkO_hi,rkP_hi,rkQ_hi,rkR_hi];
const rkLow = [rkA_lo,rkB_lo,rkC_lo,rkD_lo,rkE_lo,rkF_lo,rkG_lo,rkH_lo,rkI_lo,rkJ_lo,rkK_lo,rkL_lo,rkM_lo,rkN_lo,rkO_lo,rkP_lo,rkQ_lo,rkR_lo];

// ---- where each panel sits on the page (pixels): letter pos, x of t=0 / t=12, y of S=1 / S=0 ----
const layout = [
  {lx:21,   ly:68,   x0:106,  x12:616,  y1:220,  y0:478},
  {lx:783,  ly:68,   x0:756,  x12:1277, y1:216,  y0:483},
  {lx:1395, ly:68,   x0:1413, x12:1942, y1:208,  y0:480},
  {lx:2092, ly:68,   x0:2076, x12:2600, y1:216,  y0:484},
  {lx:2740, ly:68,   x0:2742, x12:3276, y1:209,  y0:483},
  {lx:21,   ly:817,  x0:124,  x12:734,  y1:1006, y0:1324},
  {lx:794,  ly:817,  x0:889,  x12:1483, y1:1018, y0:1321},
  {lx:1577, ly:817,  x0:1635, x12:2232, y1:1010, y0:1317},
  {lx:2360, ly:817,  x0:2393, x12:3024, y1:983,  y0:1308},
  {lx:21,   ly:1683, x0:122,  x12:722,  y1:1882, y0:2189},
  {lx:815,  ly:1683, x0:886,  x12:1507, y1:1860, y0:2179},
  {lx:1588, ly:1683, x0:1672, x12:2298, y1:1860, y0:2182},
  {lx:2388, ly:1683, x0:2454, x12:3059, y1:1874, y0:2187},
  {lx:21,   ly:2545, x0:107,  x12:628,  y1:2711, y0:2979},
  {lx:705,  ly:2545, x0:765,  x12:1294, y1:2705, y0:2977},
  {lx:1404, ly:2545, x0:1437, x12:1968, y1:2705, y0:2978},
  {lx:2085, ly:2545, x0:2110, x12:2639, y1:2705, y0:2977},
  {lx:2716, ly:2545, x0:2778, x12:3289, y1:2726, y0:2989}
];

const colors = {High: "#FF0000", Low: "#0000FF"};
const FONT = '"Liberation Sans", Arial, sans-serif';

const svg = d3.select("#fig").attr("width", 3320).attr("height", 3194)
  .style("background", "#fff");
const defs = svg.append("defs");

function stepValue(rows, t) {
  let s = rows[0][1];
  for (const r of rows) { if (r[0] <= t) s = r[1]; else break; }
  return s;
}

function styleAxis(ga, k, fs) {
  ga.attr("font-family", FONT).attr("font-size", fs);
  ga.select(".domain").remove();
  ga.selectAll(".tick line").attr("stroke", "#000").attr("stroke-width", 1.7 * k);
  ga.selectAll(".tick text").attr("fill", "#000");
}

function drawPanel(i) {
  const L = layout[i];
  const k = (L.x12 - L.x0) / 512;
  const x = d3.scaleLinear().domain([0, 12]).range([L.x0, L.x12]);
  const y = d3.scaleLinear().domain([0, 1]).range([L.y0, L.y1]);
  const axL = x(-0.6), axR = x(12.6), axT = y(1.05), axB = y(-0.05);
  const midX = (axL + axR) / 2;
  const g = svg.append("g");

  // panel letter
  svg.append("text").attr("x", L.lx).attr("y", L.ly)
    .attr("font-family", FONT).attr("font-weight", "bold").attr("font-size", 56)
    .text(letters[i]);

  // ---- legend ----
  const lg = g.append("g");
  const legY = L.y1 - 50 * k;
  const fsL = 13.5 * k, keyW = 22 * k, keyH = 21 * k;
  const title = lg.append("text").attr("font-size", fsL).attr("font-family", FONT)
    .attr("dominant-baseline", "central").attr("y", legY).text(genes[i]);
  let cx = title.node().getComputedTextLength() + 9 * k;
  groups.forEach(gr => {
    const key = lg.append("g").attr("transform", `translate(${cx},${legY})`);
    key.append("rect").attr("x", 0).attr("y", -keyH / 2).attr("width", keyW).attr("height", keyH)
      .attr("fill", colors[gr]).attr("fill-opacity", 0.3);
    key.append("line").attr("x1", 0).attr("x2", keyW).attr("y1", 0).attr("y2", 0)
      .attr("stroke", colors[gr]).attr("stroke-width", 2.8 * k);
    key.append("line").attr("x1", keyW / 2).attr("x2", keyW / 2).attr("y1", -4.5 * k).attr("y2", 4.5 * k)
      .attr("stroke", colors[gr]).attr("stroke-width", 2 * k);
    cx += keyW + 8 * k;
    const t = lg.append("text").attr("font-size", fsL).attr("font-family", FONT)
      .attr("dominant-baseline", "central").attr("x", cx).attr("y", legY).text(gr);
    cx += t.node().getComputedTextLength() + 10 * k;
  });
  const legW = cx - 10 * k;
  lg.attr("transform", `translate(${midX - legW / 2},0)`);

  // ---- survival plot ----
  const line = d3.line().curve(d3.curveStepAfter).x(d => x(d[0])).y(d => y(d[1]));
  const area = d3.area().curve(d3.curveStepAfter).x(d => x(d[0])).y0(d => y(d[2])).y1(d => y(d[3]));
  const curves = [{gr: "High", km: kmHigh[i], cn: cnHigh[i]}, {gr: "Low", km: kmLow[i], cn: cnLow[i]}];

  curves.forEach(c => {
    g.append("path").attr("d", line(c.km)).attr("fill", "none")
      .attr("stroke", colors[c.gr]).attr("stroke-width", 2.8 * k);
  });
  curves.forEach(c => {
    const s = 4.5 * k, h = 4 * k;
    const d = c.cn.map(t => {
      const px = x(t), py = y(stepValue(c.km, t));
      return `M${px - h},${py}H${px + h}M${px},${py - s}V${py + s}`;
    }).join("");
    g.append("path").attr("d", d).attr("fill", "none")
      .attr("stroke", colors[c.gr]).attr("stroke-width", 2 * k);
  });
  curves.forEach(c => {
    g.append("path").attr("d", area(c.km)).attr("fill", colors[c.gr]).attr("fill-opacity", 0.3);
  });

  // axes
  const gy = g.append("g").attr("transform", `translate(${axL},0)`)
    .call(d3.axisLeft(y).tickValues(survTicks).tickFormat(d3.format(".2f")).tickSize(5 * k).tickPadding(3 * k));
  styleAxis(gy, k, 15.5 * k);
  const gx = g.append("g").attr("transform", `translate(0,${axB})`)
    .call(d3.axisBottom(x).tickValues(timeTicks).tickFormat(d3.format("d")).tickSize(5 * k).tickPadding(4 * k));
  styleAxis(gx, k, 15.5 * k);
  g.append("path").attr("d", `M${axL},${axT}V${axB}H${axR}`).attr("fill", "none")
    .attr("stroke", "#000").attr("stroke-width", 1.8 * k);

  g.append("text").attr("x", midX).attr("y", L.y0 + 48 * k)
    .attr("text-anchor", "middle").attr("dominant-baseline", "central")
    .attr("font-family", FONT).attr("font-size", 20 * k).text("Time(years)");
  g.append("text").attr("transform", `translate(${axL - 56 * k},${(axT + axB) / 2}) rotate(-90)`)
    .attr("text-anchor", "middle").attr("dominant-baseline", "central")
    .attr("font-family", FONT).attr("font-size", 18.5 * k).text("Survival probability");
  g.append("text").attr("x", x(0.24)).attr("y", y(0.2))
    .attr("dominant-baseline", "central")
    .attr("font-family", FONT).attr("font-size", 18.5 * k).text(pvals[i]);

  // ---- risk table ----
  const yHigh = L.y0 + 116 * k, yLow = L.y0 + 137 * k, yAx = L.y0 + 149 * k;
  const rowY = d3.scalePoint().domain(groups).range([yHigh, yLow]);
  const tbl = [{gr: "High", n: rkHigh[i]}, {gr: "Low", n: rkLow[i]}];
  tbl.forEach(r => {
    g.append("g").selectAll("text").data(r.n).join("text")
      .attr("x", (d, j) => x(timeTicks[j])).attr("y", rowY(r.gr))
      .attr("text-anchor", "middle").attr("dominant-baseline", "central")
      .attr("font-family", FONT).attr("font-size", 17.5 * k).text(d => d);
  });
  const gry = g.append("g").attr("transform", `translate(${axL},0)`)
    .call(d3.axisLeft(rowY).tickSize(5 * k).tickPadding(3 * k));
  styleAxis(gry, k, 16.5 * k);
  gry.selectAll(".tick text").attr("fill", d => colors[d]).attr("dy", null)
    .attr("dominant-baseline", "central");
  const grx = g.append("g").attr("transform", `translate(0,${yAx})`)
    .call(d3.axisBottom(x).tickValues(timeTicks).tickFormat(d3.format("d")).tickSize(0).tickPadding(7.5 * k));
  styleAxis(grx, k, 15.5 * k);
  g.append("path").attr("d", `M${axL},${yHigh - 13 * k}V${yAx}H${axR}`).attr("fill", "none")
    .attr("stroke", "#000").attr("stroke-width", 1.8 * k);
  g.append("text").attr("x", midX).attr("y", L.y0 + 180 * k)
    .attr("text-anchor", "middle").attr("dominant-baseline", "central")
    .attr("font-family", FONT).attr("font-size", 20 * k).text("Time(years)");

  // gene name of the table, clipped at the bottom like the source image
  const clipId = "clip" + i;
  defs.append("clipPath").attr("id", clipId).append("rect")
    .attr("x", axL - 120 * k).attr("y", L.y0 + 30 * k).attr("width", 120 * k).attr("height", 152 * k);
  g.append("g").attr("clip-path", `url(#${clipId})`).append("text")
    .attr("transform", `translate(${axL - 55 * k},${L.y0 + 114 * k}) rotate(-90)`)
    .attr("text-anchor", "middle").attr("dominant-baseline", "central")
    .attr("font-family", FONT).attr("font-size", 18.5 * k).text(genes[i]);
}

letters.forEach((_, i) => drawPanel(i));
</script>
</body>
</html>
